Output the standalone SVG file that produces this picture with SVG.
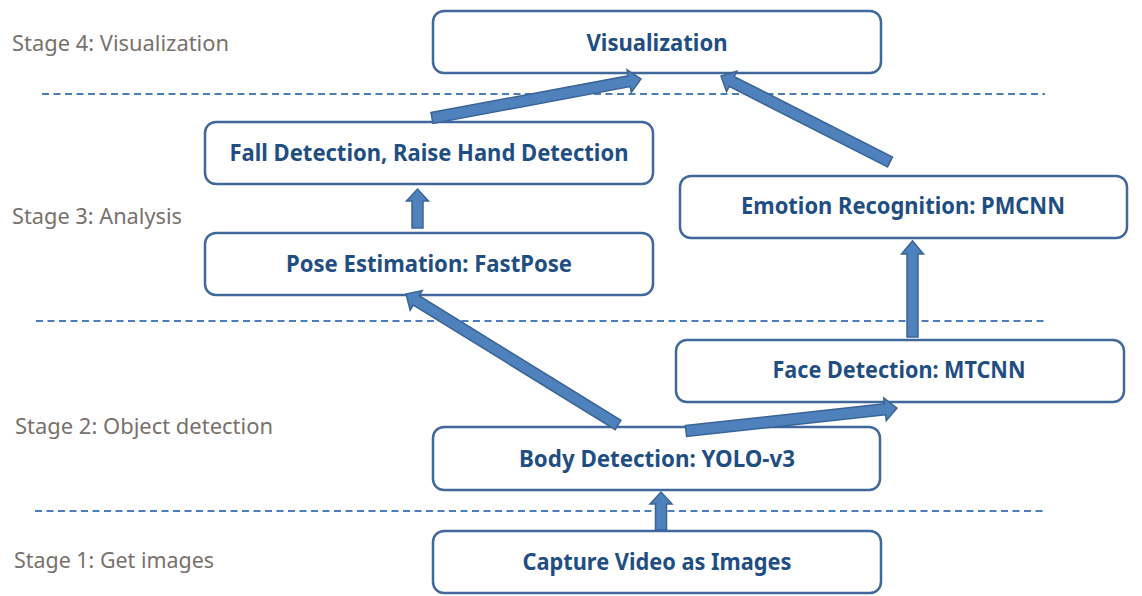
<svg xmlns="http://www.w3.org/2000/svg" width="1142" height="596" viewBox="0 0 1142 596">
<defs>
<style>
.box{fill:#ffffff;stroke:#41689B;stroke-width:2.5}
.lbl{font-family:"Noto Sans","Open Sans","Liberation Sans",sans-serif;font-weight:bold;font-size:22.5px;fill:#1F4E82;text-anchor:middle}
.stage{font-family:"Noto Sans","Open Sans","Liberation Sans",sans-serif;font-size:22px;fill:#78716B}
.dash{stroke:#4A7EBB;stroke-width:2;stroke-dasharray:7 4.5;fill:none}
.arr{fill:#4F81BD;stroke:#3A6496;stroke-width:1.5;stroke-linejoin:miter}
</style>
</defs>
<rect width="1142" height="596" fill="#ffffff"/>
<g id="stages">
<text class="stage" x="12" y="51" textLength="217" lengthAdjust="spacingAndGlyphs">Stage 4: Visualization</text>
<text class="stage" x="12" y="224" textLength="170" lengthAdjust="spacingAndGlyphs">Stage 3: Analysis</text>
<text class="stage" x="15" y="434" textLength="258" lengthAdjust="spacingAndGlyphs">Stage 2: Object detection</text>
<text class="stage" x="14" y="568" textLength="200" lengthAdjust="spacingAndGlyphs">Stage 1: Get images</text>
</g>
<g id="dividers">
<line class="dash" x1="42" y1="94" x2="1045" y2="94"/>
<line class="dash" x1="36" y1="321" x2="1045" y2="321"/>
<line class="dash" x1="35" y1="511" x2="1045" y2="511"/>
</g>
<g id="n-visualization">
<rect class="box" x="433" y="11" width="448" height="62" rx="11"/>
<text class="lbl" x="657" y="51" textLength="141" lengthAdjust="spacingAndGlyphs">Visualization</text>
</g>
<g id="n-fall">
<rect class="box" x="205" y="122" width="448" height="62" rx="11"/>
<text class="lbl" x="429" y="161" textLength="399" lengthAdjust="spacingAndGlyphs">Fall Detection, Raise Hand Detection</text>
</g>
<g id="n-pose">
<rect class="box" x="205" y="233" width="448" height="62" rx="11"/>
<text class="lbl" x="429" y="272" textLength="286" lengthAdjust="spacingAndGlyphs">Pose Estimation: FastPose</text>
</g>
<g id="n-emotion">
<rect class="box" x="680" y="176" width="447" height="62" rx="11"/>
<text class="lbl" x="903" y="214" textLength="324" lengthAdjust="spacingAndGlyphs">Emotion Recognition: PMCNN</text>
</g>
<g id="n-face">
<rect class="box" x="676" y="340" width="448" height="62" rx="11"/>
<text class="lbl" x="899" y="378" textLength="253" lengthAdjust="spacingAndGlyphs">Face Detection: MTCNN</text>
</g>
<g id="n-body">
<rect class="box" x="433" y="427" width="447" height="63" rx="11"/>
<text class="lbl" x="657" y="467" textLength="276" lengthAdjust="spacingAndGlyphs">Body Detection: YOLO-v3</text>
</g>
<g id="n-capture">
<rect class="box" x="433" y="531" width="448" height="62" rx="11"/>
<text class="lbl" x="657" y="570" textLength="269" lengthAdjust="spacingAndGlyphs">Capture Video as Images</text>
</g>
<g id="connectors">
<path class="arr" transform="translate(432,118) rotate(-10.57)" d="M0,-5.5 L200.6,-5.5 L200.6,-11.5 L212.6,0 L200.6,11.5 L200.6,5.5 L0,5.5 Z"/>
<path class="arr" transform="translate(890,162) rotate(-153.03)" d="M0,-5.5 L177.6,-5.5 L177.6,-11.5 L189.6,0 L177.6,11.5 L177.6,5.5 L0,5.5 Z"/>
<path class="arr" transform="translate(618,425) rotate(-148.29)" d="M0,-5.5 L237.2,-5.5 L237.2,-11.5 L249.2,0 L237.2,11.5 L237.2,5.5 L0,5.5 Z"/>
<path class="arr" transform="translate(686,431) rotate(-6.22)" d="M0,-5.5 L200.2,-5.5 L200.2,-11.5 L212.2,0 L200.2,11.5 L200.2,5.5 L0,5.5 Z"/>
<path class="arr" d="M412,228 L412,201 L406.5,201 L417.5,189 L428.5,201 L423,201 L423,228 Z"/>
<path class="arr" d="M907,337 L907,254 L901.5,254 L912.5,241 L923.5,254 L918,254 L918,337 Z"/>
<path class="arr" d="M655.5,530 L655.5,504 L650,504 L661,492 L672,504 L666.5,504 L666.5,530 Z"/>
</g>
</svg>
